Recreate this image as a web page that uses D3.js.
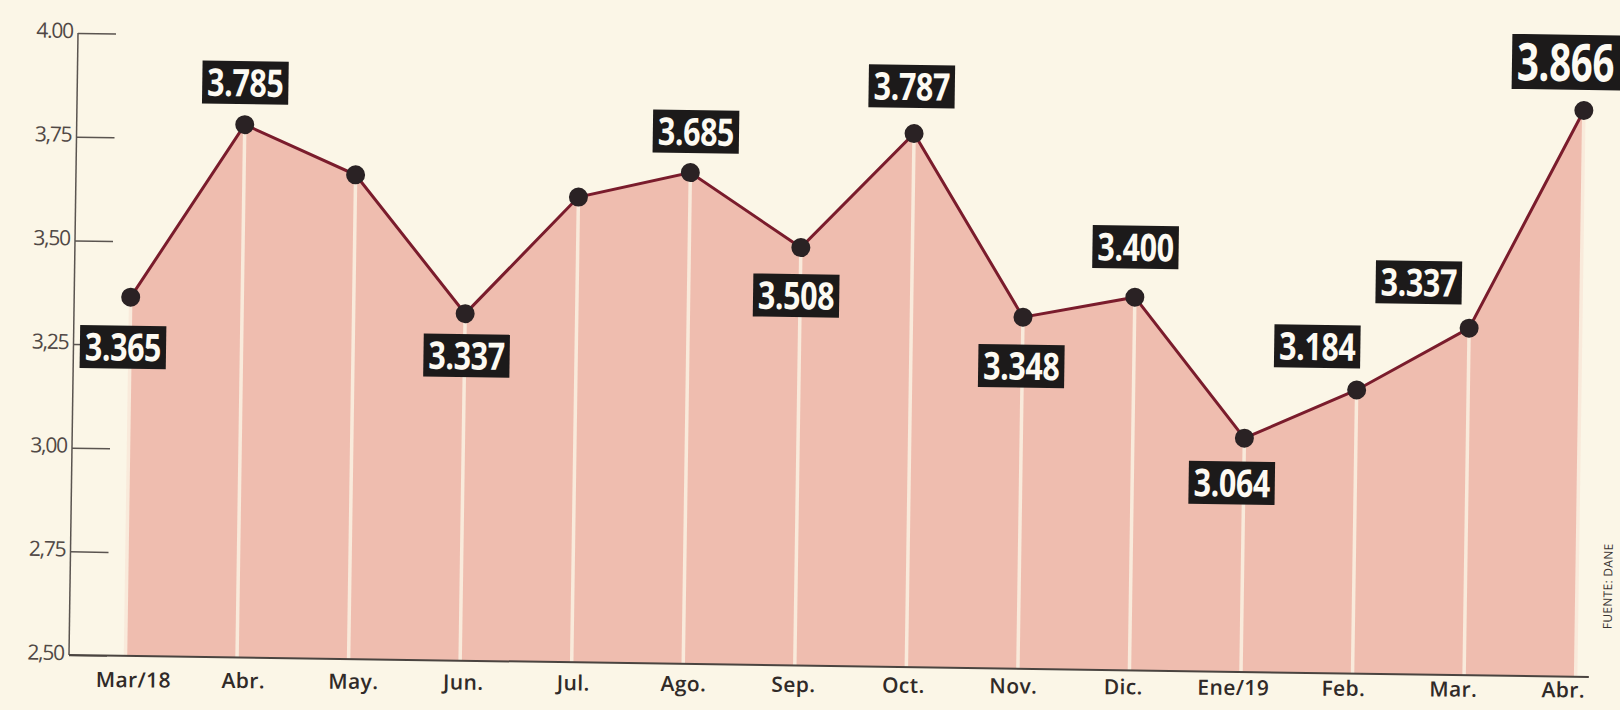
<!DOCTYPE html>
<html>
<head>
<meta charset="utf-8">
<script src="https://cdn.jsdelivr.net/npm/d3@7"></script>
<style>
    body { margin: 0; background: #fbf6e7; }
    svg { display: block; }
</style>
</head>
<body>
<div id="chart"></div>
<script>
// Months on the x axis
const months = ["Mar/18", "Abr.", "May.", "Jun.", "Jul.", "Ago.", "Sep.", "Oct.", "Nov.", "Dic.", "Ene/19", "Feb.", "Mar.", "Abr."];
// Values (May and Jul are not labelled in the print)
const values = [3.365, 3.785, 3.668, 3.337, 3.622, 3.685, 3.508, 3.787, 3.348, 3.400, 3.064, 3.184, 3.337, 3.866];
const valueLabels = ["3.365", "3.785", null, "3.337", null, "3.685", "3.508", "3.787", "3.348", "3.400", "3.064", "3.184", "3.337", "3.866"];
// Y axis ticks
const yTicks = [2.5, 2.75, 3, 3.25, 3.5, 3.75, 4];
const yTickLabels = ["2,50", "2,75", "3,00", "3,25", "3,50", "3,75", "4.00"];
const source = "FUENTE: DANE";

function main() {
    const width = 1620, height = 710;
    const axisX = 69, baseY = 655;

    const svg = d3.select("#chart")
        .append("svg")
        .attr("width", width)
        .attr("height", height);

    // the scanned page sits a little crooked
    const group = svg.append("g")
        .attr("transform", `rotate(0.83 ${axisX} ${baseY})`);

    const idx = d3.range(months.length);

    const xScale = d3.scalePoint()
        .domain(idx)
        .range([125.5, 1575.8]);

    const xLabelScale = d3.scalePoint()
        .domain(idx)
        .range([133, 1563]);

    const yScale = d3.scaleLinear()
        .domain([2.5, 4])
        .range([baseY, 33]);

    // pink area under the line
    const area = d3.area()
        .x(i => xScale(i))
        .y0(baseY)
        .y1(i => yScale(values[i]));

    group.append("path")
        .datum(idx)
        .attr("d", area)
        .attr("fill", "#efbdaf");

    // light stripes below each point
    group.append("g")
        .selectAll("line")
        .data(idx)
        .enter()
        .append("line")
        .attr("x1", i => xScale(i))
        .attr("x2", i => xScale(i))
        .attr("y1", i => yScale(values[i]))
        .attr("y2", baseY)
        .attr("stroke", "#f9eadb")
        .attr("stroke-width", 3.5);

    // y axis
    const yAxis = d3.axisLeft(yScale)
        .tickValues(yTicks)
        .tickFormat((d, i) => yTickLabels[i])
        .tickSize(0)
        .tickPadding(5);

    const yAxisGroup = group.append("g")
        .attr("transform", `translate(${axisX},0)`)
        .call(yAxis);

    yAxisGroup.select(".domain").remove();
    yAxisGroup.selectAll("text")
        .attr("dy", "0.22em")
        .attr("font-family", "Open Sans")
        .attr("font-weight", 400)
        .attr("font-size", 21)
        .attr("letter-spacing", -1.2)
        .attr("fill", "#504845");

    yAxisGroup.selectAll(".tick")
        .append("line")
        .attr("x1", 0)
        .attr("x2", 38)
        .attr("stroke", "#5a5450")
        .attr("stroke-width", 1.5);

    group.append("line")
        .attr("x1", axisX)
        .attr("x2", axisX)
        .attr("y1", yScale(4))
        .attr("y2", baseY)
        .attr("stroke", "#5a5450")
        .attr("stroke-width", 1.5);

    // x axis
    group.append("line")
        .attr("x1", axisX)
        .attr("x2", 1589)
        .attr("y1", baseY)
        .attr("y2", baseY)
        .attr("stroke", "#4a4440")
        .attr("stroke-width", 2);

    const xAxis = d3.axisBottom(xLabelScale)
        .tickFormat(i => months[i])
        .tickSize(0)
        .tickPadding(17);

    // the month labels are tilted a bit less than the plot
    const xAxisGroup = svg.append("g")
        .attr("transform", `rotate(0.4 ${axisX} ${baseY}) translate(0,${baseY})`)
        .call(xAxis);

    xAxisGroup.select(".domain").remove();
    xAxisGroup.selectAll("text")
        .attr("font-family", "Open Sans")
        .attr("font-weight", 600)
        .attr("font-size", 21)
        .attr("letter-spacing", 0.4)
        .attr("fill", "#302a28");

    // the line and its points
    const line = d3.line()
        .x(i => xScale(i))
        .y(i => yScale(values[i]));

    group.append("path")
        .datum(idx)
        .attr("d", line)
        .attr("fill", "none")
        .attr("stroke", "#7a1c2c")
        .attr("stroke-width", 3);

    group.append("g")
        .selectAll("circle")
        .data(idx)
        .enter()
        .append("circle")
        .attr("cx", i => xScale(i))
        .attr("cy", i => yScale(values[i]))
        .attr("r", 9.5)
        .attr("fill", "#2a2224");

    // where each black label box sits, relative to its point
    const offsets = [[-7, 50], [0, -42], null, [2, 42], null, [5, -41], [-4, 48],
        [-3, -47], [-1, 49], [0, -50], [-12, 45], [-40, -43], [-51, -45], [-19, -48]];

    const labelled = idx.filter(i => valueLabels[i] !== null);

    const labels = group.append("g")
        .selectAll("g")
        .data(labelled)
        .enter()
        .append("g")
        .attr("transform", i => `translate(${xScale(i) + offsets[i][0]},${yScale(values[i]) + offsets[i][1]})`);

    labels.each(function(i) {
        const big = i === months.length - 1;
        const fontSize = big ? 52 : 38;
        const boxH = big ? 55 : 43;
        const squeeze = big ? 0.74 : 0.8;
        const g = d3.select(this);
        const rect = g.append("rect").attr("fill", "#1c1a1a");
        const text = g.append("text")
            .text(valueLabels[i])
            .attr("text-anchor", "middle")
            .attr("dy", "0.36em")
            .attr("transform", `scale(${squeeze},1)`)
            .attr("font-family", "Open Sans")
            .attr("font-weight", 700)
            .attr("font-size", fontSize)
            .attr("letter-spacing", -0.5)
            .attr("fill", "#fdfaf2");
        const w = text.node().getComputedTextLength() * squeeze + 10;
        rect.attr("x", -w / 2)
            .attr("y", -boxH / 2)
            .attr("width", big ? w + 12 : w)
            .attr("height", boxH);
    });

    // source note
    group.append("text")
        .text(source)
        .attr("transform", "translate(1611,564) rotate(-90)")
        .attr("text-anchor", "middle")
        .attr("font-family", "Open Sans")
        .attr("font-size", 12)
        .attr("letter-spacing", 0.3)
        .attr("fill", "#3a3431");
}

window.addEventListener("load", main);
</script>
</body>
</html>
